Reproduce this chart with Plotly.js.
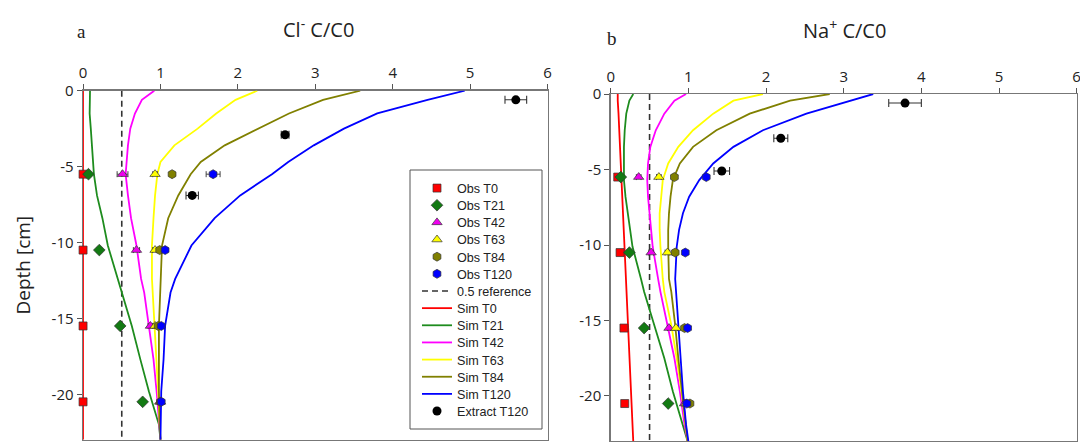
<!DOCTYPE html>
<html>
<head>
<meta charset="utf-8">
<script src="https://cdn.plot.ly/plotly-3.0.1.min.js"></script>
<style>html,body{margin:0;padding:0;background:#fff;}#chart{width:1080px;height:442px;}</style>
</head>
<body>
<div id="chart"></div>
<script>
// ---------- data ----------
const seriesNames = ['T0', 'T21', 'T42', 'T63', 'T84', 'T120'];
const xTickVals = [0, 1, 2, 3, 4, 5, 6];
const yTickVals = [0, -5, -10, -15, -20];
const yTickText = ['0', '-5', '-10', '-15', '-20'];

const obsDepth = [-5.5, -10.5, -15.5, -20.5];
// Cl- observations
const clObsT0 = [0, 0, 0, 0];
const clObsT21 = [0.07, 0.21, 0.48, 0.77];
const clObsT42 = [0.51, 0.69, 0.87, 0.99];
const clObsT63 = [0.93, 0.93, 0.93, 1.0];
const clObsT84 = [1.15, 0.99, 0.97, 1.0];
const clObsT120 = [1.68, 1.06, 1.01, 1.01];
const clObsErrT0 = [0.02, 0.02, 0.02, 0.02];
const clObsErrT21 = [0.03, 0.03, 0.03, 0.03];
const clObsErrT42 = [0.07, 0.04, 0.03, 0.02];
const clObsErrT63 = [0.03, 0.03, 0.03, 0.02];
const clObsErrT84 = [0.03, 0.03, 0.02, 0.02];
const clObsErrT120 = [0.09, 0.03, 0.02, 0.02];
// Na+ observations
const naObsT0 = [0.09, 0.12, 0.17, 0.18];
const naObsT21 = [0.13, 0.24, 0.43, 0.74];
const naObsT42 = [0.36, 0.52, 0.75, 0.95];
const naObsT63 = [0.62, 0.73, 0.84, 0.97];
const naObsT84 = [0.82, 0.83, 0.95, 1.02];
const naObsT120 = [1.23, 0.96, 0.99, 0.98];
const naObsErrT0 = [0.03, 0.03, 0.02, 0.02];
const naObsErrT21 = [0.03, 0.03, 0.02, 0.02];
const naObsErrT42 = [0.03, 0.03, 0.02, 0.02];
const naObsErrT63 = [0.03, 0.03, 0.02, 0.02];
const naObsErrT84 = [0.03, 0.03, 0.02, 0.02];
const naObsErrT120 = [0.03, 0.03, 0.02, 0.02];

// Extracts T120
const clExtDepth = [-0.6, -2.9, -6.9];
const clExt = [5.59, 2.61, 1.41];
const clExtErr = [0.14, 0.05, 0.08];
const naExtDepth = [-0.6, -2.93, -5.1];
const naExt = [3.79, 2.19, 1.43];
const naExtErr = [0.21, 0.09, 0.1];

// 0.5 reference
const refX = [0.5, 0.5];
const refDepth = [0, -23];

// Cl- simulations
const clSimDepth = [0, -0.6, -1.5, -2.5, -3.6, -4.7, -5.5, -6.9, -8.4, -10.2, -12.4, -13.3, -15.5, -17.7, -19.8, -22, -23];
const clSimT0 = [0, 0, 0, 0, 0, 0, 0, 0, 0, 0, 0, 0, 0, 0, 0, 0, 0];
const clSimT21 = [0.09, 0.085, 0.085, 0.10, 0.115, 0.13, 0.14, 0.18, 0.25, 0.32, 0.45, 0.50, 0.63, 0.74, 0.85, 0.98, 1.0];
const clSimT42 = [0.92, 0.76, 0.67, 0.61, 0.58, 0.56, 0.55, 0.58, 0.62, 0.69, 0.75, 0.79, 0.85, 0.91, 0.95, 0.98, 1.0];
const clSimT63 = [2.25, 1.97, 1.72, 1.48, 1.18, 1.0, 0.96, 0.93, 0.91, 0.89, 0.89, 0.90, 0.93, 0.95, 0.97, 0.99, 1.0];
const clSimT84 = [3.58, 3.10, 2.66, 2.26, 1.83, 1.52, 1.39, 1.23, 1.10, 1.02, 1.0, 1.0, 0.98, 0.98, 0.98, 0.99, 1.0];
const clSimT120 = [4.93, 4.45, 3.8, 3.37, 2.98, 2.65, 2.44, 2.03, 1.70, 1.40, 1.19, 1.13, 1.06, 1.04, 1.01, 1.0, 1.0];

// Na+ simulations
const naSimDepth = [0, -0.44, -1.3, -2.4, -3.5, -4.6, -5.7, -6.8, -7.9, -9.0, -10.1, -12.25, -13.1, -15.3, -17.5, -19.7, -21.9, -23];
const naSimT0 = [0.09, 0.09, 0.10, 0.11, 0.12, 0.13, 0.135, 0.145, 0.155, 0.165, 0.175, 0.195, 0.205, 0.22, 0.24, 0.26, 0.28, 0.29];
const naSimT21 = [0.29, 0.24, 0.20, 0.18, 0.17, 0.17, 0.17, 0.19, 0.22, 0.25, 0.28, 0.39, 0.43, 0.56, 0.69, 0.80, 0.93, 0.99];
const naSimT42 = [0.97, 0.82, 0.69, 0.58, 0.51, 0.48, 0.47, 0.48, 0.50, 0.52, 0.54, 0.61, 0.64, 0.73, 0.82, 0.89, 0.95, 0.99];
const naSimT63 = [1.96, 1.58, 1.32, 1.06, 0.87, 0.74, 0.67, 0.65, 0.63, 0.63, 0.64, 0.67, 0.69, 0.78, 0.85, 0.91, 0.96, 0.99];
const naSimT84 = [2.82, 2.31, 1.79, 1.36, 1.06, 0.89, 0.80, 0.77, 0.75, 0.74, 0.74, 0.75, 0.78, 0.83, 0.87, 0.92, 0.97, 0.99];
const naSimT120 = [3.38, 3.08, 2.52, 1.96, 1.58, 1.32, 1.14, 1.01, 0.93, 0.88, 0.85, 0.83, 0.84, 0.87, 0.90, 0.93, 0.97, 1.0];

// ---------- styling ----------
const lineColors = ['#ff0000', '#1e8c1e', '#ff00ff', '#ffff00', '#808000', '#0000ff'];
const markerColors = ['#ff0000', '#137a13', '#ee00ee', '#ffff00', '#808000', '#0000ff'];
const markerSymbols = ['square', 'diamond', 'triangle-up', 'triangle-up', 'hexagon', 'hexagon'];
const markerSizes = [8, 9, 9, 9, 9, 9];

const clObs = [clObsT0, clObsT21, clObsT42, clObsT63, clObsT84, clObsT120];
const clObsErr = [clObsErrT0, clObsErrT21, clObsErrT42, clObsErrT63, clObsErrT84, clObsErrT120];
const naObs = [naObsT0, naObsT21, naObsT42, naObsT63, naObsT84, naObsT120];
const naObsErr = [naObsErrT0, naObsErrT21, naObsErrT42, naObsErrT63, naObsErrT84, naObsErrT120];
const clSim = [clSimT0, clSimT21, clSimT42, clSimT63, clSimT84, clSimT120];
const naSim = [naSimT0, naSimT21, naSimT42, naSimT63, naSimT84, naSimT120];

const traces = [];
function addPanel(sims, simDepth, obs, obsErr, ext, extDepth, extErr, xa, ya, legend) {
  traces.push({
    x: refX, y: refDepth, xaxis: xa, yaxis: ya, type: 'scatter', mode: 'lines',
    name: '0.5 reference', legendrank: 7, showlegend: legend,
    line: {color: '#333333', width: 1.6, dash: '6px,4px'}
  });
  sims.forEach((s, i) => traces.push({
    x: s, y: simDepth, xaxis: xa, yaxis: ya, type: 'scatter', mode: 'lines',
    name: 'Sim ' + seriesNames[i], legendrank: 8 + i, showlegend: legend,
    line: {color: lineColors[i], width: 1.8}
  }));
  obs.forEach((o, i) => traces.push({
    x: o, y: obsDepth, xaxis: xa, yaxis: ya, type: 'scatter', mode: 'markers',
    name: 'Obs ' + seriesNames[i], legendrank: 1 + i, showlegend: legend, cliponaxis: false,
    error_x: {type: 'data', array: obsErr[i], visible: true, color: '#444', thickness: 1, width: 3},
    marker: {symbol: markerSymbols[i], size: markerSizes[i], color: markerColors[i], line: {color: '#333', width: 0.7}}
  }));
  traces.push({
    x: ext, y: extDepth, xaxis: xa, yaxis: ya, type: 'scatter', mode: 'markers',
    name: 'Extract T120', legendrank: 14, showlegend: legend, cliponaxis: false,
    error_x: {type: 'data', array: extErr, visible: true, color: '#333', thickness: 1.1, width: 4},
    marker: {symbol: 'circle', size: 9, color: '#000000'}
  });
}
addPanel(clSim, clSimDepth, clObs, clObsErr, clExt, clExtDepth, clExtErr, 'x', 'y', true);
addPanel(naSim, naSimDepth, naObs, naObsErr, naExt, naExtDepth, naExtErr, 'x2', 'y2', false);

const tickFont = {family: 'Open Sans, sans-serif', size: 15, color: '#222'};
function xAxis(domain, anchor) {
  return {
    domain: domain, anchor: anchor, side: 'top', range: [0, 6], tickvals: xTickVals,
    ticks: 'outside', ticklen: 5, tickcolor: '#555', tickwidth: 1,
    showline: true, mirror: true, linecolor: '#777', linewidth: 1.5,
    showgrid: false, zeroline: false, tickfont: tickFont, layer: 'below traces', fixedrange: true,
    automargin: false, ticklabeloverflow: 'allow'
  };
}
function yAxis(domain, anchor, title) {
  const ax = {
    domain: domain, anchor: anchor, range: [-23, 0], tickvals: yTickVals, ticktext: yTickText,
    ticks: 'outside', ticklen: 5, tickcolor: '#555', tickwidth: 1,
    showline: true, mirror: true, linecolor: '#777', linewidth: 1.5,
    showgrid: false, zeroline: false, tickfont: tickFont, layer: 'below traces', fixedrange: true,
    automargin: false, ticklabeloverflow: 'allow'
  };
  if (title) ax.title = title;
  return ax;
}

const legendBox = {x0: 410, x1: 542, y0: 170, y1: 429};
const legendRow = 17.15;

const layout = {
  width: 1080, height: 442, autosize: false,
  margin: {l: 0, r: 0, t: 0, b: 0},
  paper_bgcolor: '#ffffff', plot_bgcolor: '#ffffff',
  showlegend: true,
  xaxis: xAxis([0.0769, 0.507], 'y'),
  yaxis: yAxis([0.005, 0.7948], 'x', {text: 'Depth [cm]', font: {family: 'Open Sans, sans-serif', size: 19, color: '#222'}, standoff: 16}),
  xaxis2: xAxis([0.5655, 0.9969], 'y2'),
  yaxis2: yAxis([0.0016, 0.7873], 'x2', null),
  legend: {
    x: 0.3796, y: 0.72, xanchor: 'left', yanchor: 'top',
    bgcolor: 'rgba(0,0,0,0)', borderwidth: 0,
    font: {family: 'Liberation Sans, Arial, sans-serif', size: 12.6, color: '#222'},
    traceorder: 'normal', itemclick: false, itemdoubleclick: false
  },
  shapes: [
    {type: 'rect', xref: 'paper', yref: 'paper', layer: 'above',
     x0: legendBox.x0 / 1080, x1: legendBox.x1 / 1080, y0: 1 - legendBox.y1 / 442, y1: 1 - legendBox.y0 / 442,
     line: {color: '#555', width: 1}, fillcolor: '#ffffff'}
  ],
  annotations: [
    {text: 'Cl<sup>-</sup> C/C0', xref: 'paper', yref: 'paper', x: 318 / 1080, y: 1 - 28 / 442,
     xanchor: 'center', yanchor: 'middle', showarrow: false,
     font: {family: 'Open Sans, sans-serif', size: 20, color: '#222'}},
    {text: 'Na<sup>+</sup> C/C0', xref: 'paper', yref: 'paper', x: 844 / 1080, y: 1 - 30 / 442,
     xanchor: 'center', yanchor: 'middle', showarrow: false,
     font: {family: 'Open Sans, sans-serif', size: 20, color: '#222'}},
    {text: 'a', xref: 'paper', yref: 'paper', x: 81 / 1080, y: 1 - 32 / 442,
     xanchor: 'center', yanchor: 'middle', showarrow: false,
     font: {family: 'Liberation Serif, serif', size: 19, color: '#222'}},
    {text: 'b', xref: 'paper', yref: 'paper', x: 612 / 1080, y: 1 - 38 / 442,
     xanchor: 'center', yanchor: 'middle', showarrow: false,
     font: {family: 'Liberation Serif, serif', size: 19, color: '#222'}}
  ]
};

function parseTranslate(el) {
  const m = /translate\(\s*([-\d.eE]+)[\s,]+([-\d.eE]+)/.exec(el.getAttribute('transform') || '');
  return m ? [parseFloat(m[1]), parseFloat(m[2])] : [0, 0];
}

Plotly.newPlot('chart', traces, layout, {staticPlot: true, displayModeBar: false}).then(function (gd) {
  try {
    const leg = gd.querySelector('g.legend');
    if (!leg) return;
    const items = Array.from(leg.querySelectorAll('g.traces'));
    if (!items.length) return;
    const pos = items.map(parseTranslate);
    const ys = pos.map(p => p[1]).sort((a, b) => a - b);
    const y0 = ys[0];
    const step = ys.length > 1 ? (ys[ys.length - 1] - ys[0]) / (ys.length - 1) : legendRow;
    items.forEach((el, i) => {
      const p = pos[i];
      el.setAttribute('transform', 'translate(' + p[0] + ',' + (y0 + (p[1] - y0) * legendRow / step) + ')');
    });
    // place first row so its text centre sits at the reference position
    const first = items[pos.map(p => p[1]).indexOf(y0)];
    const txt = first.querySelector('text.legendtext');
    const r = txt.getBoundingClientRect();
    const dy = (legendBox.y0 + 19) - (r.top + r.height / 2);
    const dx = (legendBox.x0 + 47) - r.left;
    const lp = parseTranslate(leg);
    leg.setAttribute('transform', 'translate(' + (lp[0] + dx) + ',' + (lp[1] + dy) + ')');
  } catch (e) { /* keep default legend */ }
});
</script>
</body>
</html>
